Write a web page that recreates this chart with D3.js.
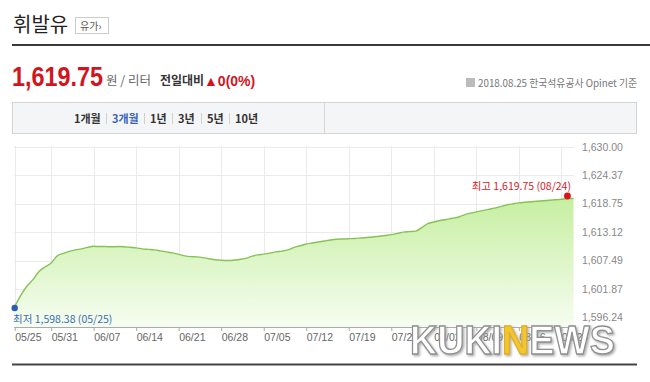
<!DOCTYPE html>
<html><head><meta charset="utf-8">
<script src="https://cdn.jsdelivr.net/npm/d3@7/dist/d3.min.js"></script>
<style>
html,body{margin:0;padding:0;background:#fff;}
svg{display:block;}
text{font-family:"Liberation Sans","Noto Sans CJK KR",sans-serif;}
.kr{font-family:"Noto Sans CJK KR","Liberation Sans",sans-serif;}
</style></head>
<body><svg id="c" width="650" height="382"></svg>
<script>
// ---- data ----
const startDate = "2018-05-25";
const prices = [
1598.38,1600.6,1602.4,1603.7,1605.3,1606.2,1607.0,1608.4,1608.9,1609.3,
1609.6,1609.8,1610.1,1610.3,1610.25,1610.25,1610.2,1610.25,1610.2,1610.1,
1610.0,1609.8,1609.7,1609.6,1609.4,1609.2,1609.0,1608.7,1608.4,1608.25,
1608.2,1608.05,1607.85,1607.65,1607.55,1607.5,1607.55,1607.7,1607.9,1608.3,
1608.6,1608.75,1608.95,1609.2,1609.35,1609.6,1610.1,1610.4,1610.75,1610.95,
1611.15,1611.35,1611.55,1611.7,1611.75,1611.8,1611.85,1611.95,1612.05,1612.15,
1612.3,1612.45,1612.6,1612.85,1613.1,1613.2,1613.3,1614.0,1614.8,1615.1,
1615.4,1615.6,1615.85,1616.05,1616.5,1616.85,1617.1,1617.35,1617.6,1617.85,
1618.15,1618.5,1618.7,1618.9,1619.0,1619.1,1619.2,1619.3,1619.4,1619.5,
1619.6,1619.75,1619.75];
const xTickLabels = ["05/25","05/31","06/07","06/14","06/21","06/28","07/05","07/12","07/19","07/26","08/02","08/09","08/16","08/23"];
const yTicks = [1596.24,1601.87,1607.49,1613.12,1618.75,1624.37,1630.00];
const periods = ["1개월","3개월","1년","3년","5년","10년"];
const minInfo = {value:1598.38, date:"05/25"};
const maxInfo = {value:1619.75, date:"08/24"};

// ---- build ----
const parse = d3.timeParse("%Y-%m-%d");
const t0 = parse(startDate);
const data = prices.map((v,i)=>({date:d3.timeDay.offset(t0,i), value:v}));
const tickDates = xTickLabels.map(s=>parse("2018-"+s.replace("/","-")));

const svg = d3.select("#c");
const fmt = d3.format(",.2f");

// header
svg.append("text").attr("class","kr").attr("x",13).attr("y",32)
  .attr("font-size",20).attr("fill","#222").text("휘발유");
svg.append("rect").attr("x",75.5).attr("y",17.5).attr("width",33).attr("height",16)
  .attr("fill","#fff").attr("stroke","#ccc");
svg.append("text").attr("class","kr").attr("x",80).attr("y",29.5)
  .attr("font-size",10).attr("fill","#555").text("유가›");
svg.append("line").attr("x1",12).attr("x2",650).attr("y1",45).attr("y2",45)
  .attr("stroke","#3a3a3a").attr("stroke-width",2);

svg.append("text").attr("x",12).attr("y",86).attr("font-size",27).attr("font-weight","bold")
  .attr("fill","#d2141e").attr("textLength",91).attr("lengthAdjust","spacingAndGlyphs")
  .text(fmt(prices[prices.length-1]));
svg.append("text").attr("class","kr").attr("x",106).attr("y",85).attr("font-size",12.5)
  .attr("fill","#666").text("원 / 리터");
svg.append("text").attr("class","kr").attr("x",160).attr("y",85).attr("font-size",12)
  .attr("font-weight","bold").attr("fill","#333").text("전일대비");
svg.append("text").attr("x",204).attr("y",86).attr("font-size",14).attr("font-weight","bold")
  .attr("fill","#d2141e").text("▲0(0%)");

svg.append("rect").attr("x",466).attr("y",78).attr("width",9).attr("height",9)
  .attr("fill","#bbb");
svg.append("text").attr("class","kr").attr("x",478).attr("y",87).attr("font-size",10.5)
  .attr("fill","#777").attr("textLength",159).attr("lengthAdjust","spacingAndGlyphs")
  .text("2018.08.25 한국석유공사 Opinet 기준");

// period bar
svg.append("rect").attr("x",12.5).attr("y",102.5).attr("width",624).attr("height",31)
  .attr("fill","#f4f5f7").attr("stroke","#d4d4d4");
svg.append("line").attr("x1",324.5).attr("x2",324.5).attr("y1",103).attr("y2",133)
  .attr("stroke","#d4d4d4");
const px = [74,112,150,178,207,235];
const pxEnd = [99,137,166,194,223,257];
periods.forEach((p,i)=>{
  svg.append("text").attr("class","kr").attr("x",px[i]).attr("y",122.5).attr("font-size",11)
    .attr("font-weight","bold").attr("fill", i===1?"#3a62b8":"#333").text(p);
  if(i<periods.length-1){
    const sx = Math.round((px[i+1]+pxEnd[i])/2)+0.5;
    svg.append("line").attr("x1",sx).attr("x2",sx).attr("y1",113).attr("y2",124)
      .attr("stroke","#d0d0d0");
  }
});

// chart
const x = d3.scaleTime().domain([data[0].date, data[data.length-1].date]).range([14.7, 573.5]);
const y = d3.scaleLinear().domain([1594.34, 1630]).range([327, 146.7]);

const defs = svg.append("defs");
const g = defs.append("linearGradient").attr("id","ga").attr("gradientUnits","userSpaceOnUse")
  .attr("x1",0).attr("x2",0).attr("y1",190).attr("y2",327);
g.append("stop").attr("offset",0).attr("stop-color","#c3ee9c");
g.append("stop").attr("offset",1).attr("stop-color","#f6fdf1");
const f = defs.append("filter").attr("id","sh").attr("x","-10%").attr("y","-20%")
  .attr("width","130%").attr("height","150%");
f.append("feDropShadow").attr("dx",1.5).attr("dy",1.5).attr("stdDeviation",0.8)
  .attr("flood-color","#999").attr("flood-opacity",0.8);

// grid
svg.append("g").selectAll("line").data(yTicks).join("line")
  .attr("x1",14).attr("x2",574).attr("y1",d=>Math.round(y(d))+0.5).attr("y2",d=>Math.round(y(d))+0.5)
  .attr("stroke","#ebebeb");
svg.append("g").selectAll("line").data(tickDates).join("line")
  .attr("x1",d=>Math.round(x(d))+0.5).attr("x2",d=>Math.round(x(d))+0.5)
  .attr("y1",146).attr("y2",327).attr("stroke","#ebebeb");

// area + line
svg.append("path").datum(data)
  .attr("d", d3.area().x(d=>x(d.date)).y0(327).y1(d=>y(d.value)).curve(d3.curveMonotoneX))
  .attr("fill","url(#ga)");
svg.append("path").datum(data)
  .attr("d", d3.line().x(d=>x(d.date)).y(d=>y(d.value)).curve(d3.curveMonotoneX))
  .attr("fill","none").attr("stroke","#86c255").attr("stroke-width",1.4);

// x axis
const xAxis = d3.axisBottom(x).tickValues(tickDates).tickSize(4).tickFormat((d,i)=>xTickLabels[i]);
const xa = svg.append("g").attr("transform","translate(0,327)").call(xAxis);
xa.select(".domain").attr("stroke","#aaa").attr("d","M14,0.5H574");
xa.selectAll(".tick line").attr("stroke","#aaa");
xa.selectAll(".tick text").attr("text-anchor","start").attr("dx",0).attr("y",7)
  .attr("fill","#666").attr("font-size",10.5).attr("font-family","Liberation Sans");

// y axis
const yAxis = d3.axisRight(y).tickValues(yTicks).tickSize(0).tickFormat(d=>fmt(d));
const ya = svg.append("g").attr("transform","translate(574,0)").call(yAxis);
ya.select(".domain").remove();
ya.selectAll(".tick text").attr("x",8).attr("fill","#888").attr("font-size",10.5)
  .attr("font-family","Liberation Sans");

// min / max markers
const minIdx = prices.indexOf(d3.min(prices));
const maxIdx = prices.indexOf(d3.max(prices));
svg.append("circle").attr("cx",x(data[minIdx].date)).attr("cy",y(minInfo.value)+1.5).attr("r",3.2)
  .attr("fill","#2a5db0");
svg.append("text").attr("class","kr").attr("x",13).attr("y",323).attr("font-size",10.5)
  .attr("fill","#3b6db5").text("최저 "+fmt(minInfo.value)+" ("+minInfo.date+")");
svg.append("circle").attr("cx",x(data[maxIdx].date)).attr("cy",y(maxInfo.value)-2.5).attr("r",3.4)
  .attr("fill","#d8141c");
svg.append("text").attr("class","kr").attr("x",571).attr("y",190).attr("font-size",10.5)
  .attr("text-anchor","end").attr("fill","#d2232a").text("최고 "+fmt(maxInfo.value)+" ("+maxInfo.date+")");

// bottom rule
svg.append("line").attr("x1",12).attr("x2",637).attr("y1",364.5).attr("y2",364.5)
  .attr("stroke","#444").attr("stroke-width",2);

// watermark
const wm = svg.append("text").attr("x",410).attr("y",354).attr("font-size",40)
  .attr("font-weight","bold").attr("font-family","DejaVu Sans Condensed, Liberation Sans Narrow, sans-serif")
  .attr("textLength",205).attr("lengthAdjust","spacingAndGlyphs")
  .attr("stroke","#8f8f8f").attr("stroke-width",1.3).attr("fill","#fff").attr("filter","url(#sh)");
wm.append("tspan").text("KUKI");
wm.append("tspan").attr("fill","#f2c531").attr("stroke","#e0b020").text("N");
wm.append("tspan").text("EWS");
</script></body></html>
